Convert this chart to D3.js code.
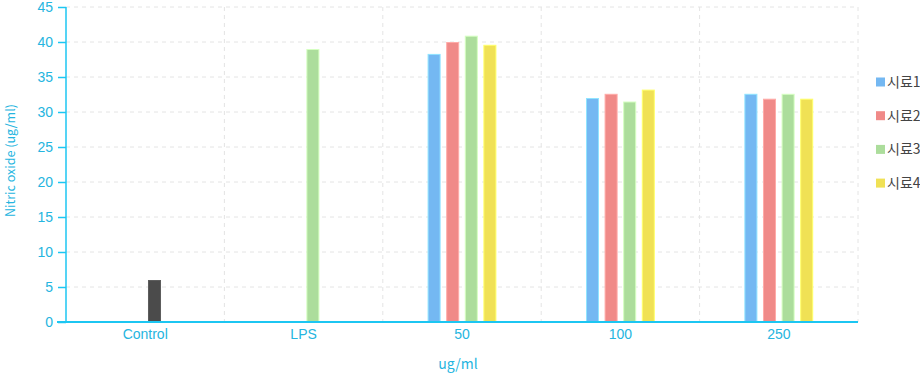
<!DOCTYPE html>
<html>
<head>
<meta charset="utf-8">
<script src="https://cdn.jsdelivr.net/npm/d3@7"></script>
<style>
  body { margin: 0; background: #fff; }
  svg { display: block; font-family: "Noto Sans CJK KR", "Noto Sans", sans-serif; }
</style>
</head>
<body>
<div id="chart"></div>
<script>
// Data
var categories = ["Control", "LPS", "50", "100", "250"];
var seriesNames = ["시료1", "시료2", "시료3", "시료4"];
var s1 = [null, null, 38.3, 32.0, 32.6];
var s2 = [null, null, 40.0, 32.6, 31.9];
var s3 = [6.0, 39.0, 40.9, 31.5, 32.6];
var s4 = [null, null, 39.6, 33.2, 31.9];
var yTicks = [0, 5, 10, 15, 20, 25, 30, 35, 40, 45];

var colors = ["#74b8f2", "#f08a88", "#acdd9c", "#f0e155"];
var controlColor = "#4b4b4b";
var cyan = "#1cc6f2", labelCyan = "#25b5e0";

var margin = {top: 7, right: 62, bottom: 51, left: 66},
    width = 920 - margin.left - margin.right,
    height = 373 - margin.top - margin.bottom;

var svg = d3.select("#chart").append("svg")
    .attr("width", 920).attr("height", 373)
  .append("g")
    .attr("transform", "translate(" + margin.left + "," + margin.top + ")");

var x0 = d3.scaleBand().domain(categories).range([0, width]).padding(0);
var x1 = d3.scaleBand().domain(seriesNames).range([x0.bandwidth() / 2 - 37.2, x0.bandwidth() / 2 + 37.2]).paddingInner(0.3).paddingOuter(0.15);
var y = d3.scaleLinear().domain([0, 45]).range([height, 0]);

// grid
svg.append("g").selectAll("line").data(yTicks.slice(1)).enter().append("line")
  .attr("x1", 0).attr("x2", width)
  .attr("y1", d => y(d)).attr("y2", d => y(d))
  .attr("stroke", "#e4e4e4").attr("stroke-dasharray", "4,4");
svg.append("g").selectAll("line").data(categories).enter().append("line")
  .attr("x1", d => x0(d) + x0.bandwidth()).attr("x2", d => x0(d) + x0.bandwidth())
  .attr("y1", 0).attr("y2", height)
  .attr("stroke", "#e4e4e4").attr("stroke-dasharray", "4,4");

// bars
var all = [s1, s2, s3, s4];
var bars = [];
categories.forEach(function(c, i) {
  seriesNames.forEach(function(s, j) {
    if (all[j][i] != null) bars.push({cat: c, ser: s, j: j, v: all[j][i]});
  });
});
svg.append("g").selectAll("rect").data(bars).enter().append("rect")
  .attr("x", d => x0(d.cat) + x1(d.ser) + 0.5)
  .attr("y", d => y(d.v) + 0.5)
  .attr("width", x1.bandwidth() - 1)
  .attr("height", d => height - y(d.v) - 0.5)
  .attr("fill", d => d.cat == "Control" ? controlColor : colors[d.j])
  .attr("stroke", d => d3.color(d.cat == "Control" ? controlColor : colors[d.j]).brighter(0.6))
  .attr("stroke-width", 1);

// y axis
var yAxis = svg.append("g")
  .call(d3.axisLeft(y).tickValues(yTicks).tickSize(8).tickPadding(5));
yAxis.select(".domain").attr("stroke", cyan).attr("stroke-width", 1.5).attr("d", "M0," + height + "V0");
yAxis.selectAll(".tick line").attr("stroke", cyan).attr("stroke-width", 1.5);
yAxis.selectAll(".tick text").attr("fill", labelCyan).style("font-size", "14px");

// x axis
var xAxis = svg.append("g")
  .attr("transform", "translate(0," + height + ")")
  .call(d3.axisBottom(x0).tickSize(0).tickPadding(7));
xAxis.select(".domain").attr("stroke", cyan).attr("stroke-width", 2).attr("d", "M-9,0H" + width);
xAxis.selectAll(".tick text").attr("fill", labelCyan).style("font-size", "14px");

// titles
svg.append("text")
  .attr("x", width / 2 - 4).attr("y", height + 47)
  .attr("text-anchor", "middle").attr("fill", labelCyan).style("font-size", "14px")
  .text("ug/ml");
svg.append("text")
  .attr("transform", "translate(" + (-55) + "," + (height / 2 - 4) + ") rotate(-90)")
  .attr("text-anchor", "middle").attr("dy", "0.35em")
  .attr("fill", labelCyan).style("font-size", "12.5px")
  .text("Nitric oxide (ug/ml)");

// legend
var legend = svg.append("g").attr("transform", "translate(" + (width + 18) + ",0)");
var li = legend.selectAll("g").data(seriesNames).enter().append("g")
  .attr("transform", (d, i) => "translate(0," + (75 + i * 33.7) + ")");
li.append("rect").attr("x", 0).attr("y", -4.5).attr("width", 9).attr("height", 9)
  .attr("fill", (d, i) => colors[i]);
li.append("text").attr("x", 11).attr("y", 0).attr("dy", "0.35em")
  .attr("fill", "#444").style("font-size", "14px").text(d => d);
</script>
</body>
</html>
